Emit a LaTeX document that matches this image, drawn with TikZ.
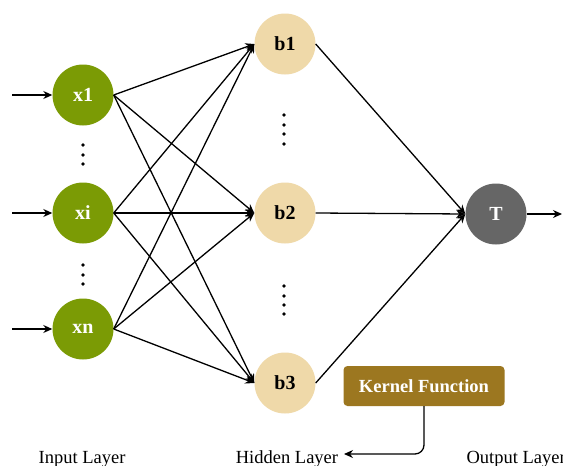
\documentclass[tikz,border=0pt]{standalone}
\usepackage{fontspec}
\setmainfont{Liberation Serif}
\usetikzlibrary{arrows.meta}
\definecolor{inputgreen}{HTML}{7B9B05}
\definecolor{hiddenbeige}{HTML}{EFD9A9}
\definecolor{outputgray}{HTML}{666666}
\definecolor{kernelbrown}{HTML}{9C7720}
\begin{document}
\begin{tikzpicture}[x=1pt,y=-1pt,
  neuron/.style={circle,minimum size=61pt,inner sep=0pt,font=\fontsize{20}{23}\selectfont\bfseries},
  inneuron/.style={neuron,fill=inputgreen,text=white},
  hidneuron/.style={neuron,fill=hiddenbeige,text=black},
  outneuron/.style={neuron,fill=outputgray,text=white},
  tip/.style={-{Stealth[length=9pt,width=8pt]}},
  conn/.style={line width=1.3pt,tip},
  vdot/.style={circle,fill=black,inner sep=0pt,minimum size=3.8pt},
  layerlabel/.style={font=\fontsize{18.5}{22}\selectfont,anchor=base},
  kernelbox/.style={fill=kernelbrown,rounded corners=4pt,text=white,
    font=\fontsize{18.5}{22}\selectfont\bfseries,minimum width=161pt,minimum height=40pt,inner sep=0pt}
]
\useasboundingbox (0,0) rectangle (563,466);
\fill[white] (0,0) rectangle (563,466);

% input layer
\node[inneuron] (x1) at (83,95) {x1};
\node[inneuron] (xi) at (83,213) {xi};
\node[inneuron] (xn) at (83,329) {xn};
% hidden layer
\node[hidneuron] (b1) at (285,44) {b1};
\node[hidneuron] (b2) at (285,213) {b2};
\node[hidneuron] (b3) at (285,383) {b3};
% output layer
\node[outneuron] (T) at (496,214) {T};

% free ends of the input and output arrows
\coordinate (in1) at (12,95);
\coordinate (ini) at (12,213);
\coordinate (inn) at (12,329);
\coordinate (out) at (562,214);

\draw[conn] (in1) -- (x1.west);
\draw[conn] (ini) -- (xi.west);
\draw[conn] (inn) -- (xn.west);

% full connections input -> hidden
\foreach \s in {x1,xi,xn}
  \foreach \t in {b1,b2,b3}
    \draw[conn] (\s.east) -- (\t.west);

% hidden -> output
\foreach \t in {b1,b2,b3}
  \draw[conn] (\t.east) -- (T.west);
\draw[conn] (T.east) -- (out);

% ellipsis dots
\foreach \y in {145,155,164,265,275,284}
  \node[vdot] at (83,\y) {};
\foreach \y in {115,125,134,144,286,296,305,314}
  \node[vdot] at (284,\y) {};

% layer captions
\node[layerlabel] (lin) at (82,463) {Input Layer};
\node[layerlabel] (lhid) at (287,463) {Hidden Layer};
\node[layerlabel,anchor=base west] (lout) at (463,463) {Output Layer};

% kernel function box and its pointer to the hidden layer caption
\node[kernelbox] (kf) at (424,386) {Kernel Function};
\coordinate (kfend) at (344,454);
\draw[conn,rounded corners=9pt] (kf.south) |- (kfend);
\end{tikzpicture}
\end{document}
